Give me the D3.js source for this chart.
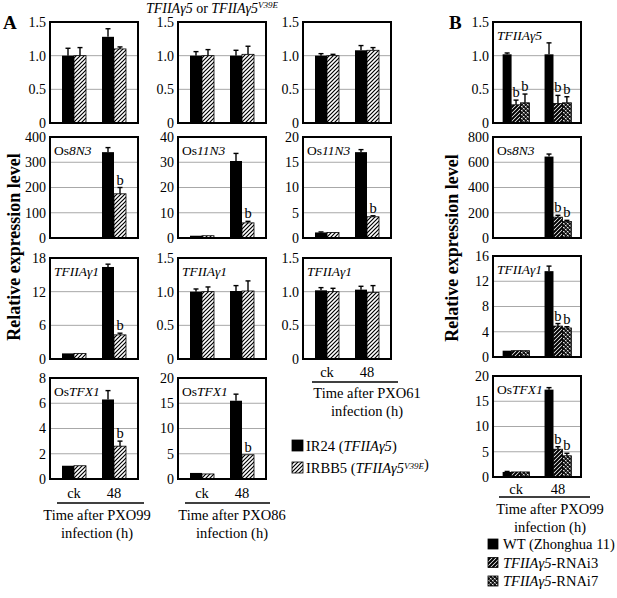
<!DOCTYPE html>
<html><head><meta charset="utf-8">
<script src="https://cdn.jsdelivr.net/npm/d3@7"></script>
<style>
body{margin:0;background:#fff}
svg{display:block;font-family:"Liberation Serif","Times New Roman",serif}
</style>
</head><body>
<svg id="c" width="617" height="598"></svg>
<script>
// ---------------- DATA ----------------
const timePoints = ["ck", "48"];
const seriesA = ["IR24", "IRBB5"];
const seriesB = ["WT", "RNAi3", "RNAi7"];

// Panel A: order [ck-IR24, ck-IRBB5, 48-IR24, 48-IRBB5]
const a99_g5_mean   = [1.00, 1.00, 1.28, 1.10];
const a99_g5_err    = [0.11, 0.12, 0.12, 0.03];
const a99_8n3_mean  = [1, 1, 340, 175];
const a99_8n3_err   = [0, 0, 18, 25];
const a99_g1_mean   = [1.0, 1.0, 16.4, 4.3];
const a99_g1_err    = [0, 0, 0.5, 0.3];
const a99_tfx1_mean = [1.05, 1.05, 6.3, 2.6];
const a99_tfx1_err  = [0, 0, 0.7, 0.4];

const a86_g5_mean   = [1.00, 1.00, 1.00, 1.02];
const a86_g5_err    = [0.06, 0.09, 0.08, 0.12];
const a86_11n3_mean = [0.9, 0.9, 30.5, 6.0];
const a86_11n3_err  = [0, 0, 3.0, 0.6];
const a86_g1_mean   = [1.00, 1.00, 1.01, 1.01];
const a86_g1_err    = [0.04, 0.07, 0.08, 0.15];
const a86_tfx1_mean = [1.2, 1.0, 15.5, 4.8];
const a86_tfx1_err  = [0, 0, 1.3, 0];

const a61_g5_mean   = [1.00, 1.00, 1.08, 1.08];
const a61_g5_err    = [0.03, 0.02, 0.07, 0.04];
const a61_11n3_mean = [1.1, 1.1, 17.0, 4.2];
const a61_11n3_err  = [0.1, 0, 0.5, 0.2];
const a61_g1_mean   = [1.02, 1.00, 1.03, 0.99];
const a61_g1_err    = [0.04, 0.05, 0.05, 0.10];

// Panel B: order [ck-WT, ck-RNAi3, ck-RNAi7, 48-WT, 48-RNAi3, 48-RNAi7]
const b_g5_mean   = [1.02, 0.27, 0.30, 1.02, 0.29, 0.30];
const b_g5_err    = [0.02, 0.07, 0.13, 0.17, 0.12, 0.09];
const b_8n3_mean  = [1, 1, 1, 645, 165, 130];
const b_8n3_err   = [0, 0, 0, 20, 15, 10];
const b_g1_mean   = [1.0, 1.0, 1.0, 13.6, 4.9, 4.6];
const b_g1_err    = [0, 0, 0, 0.8, 0.4, 0.2];
const b_tfx1_mean = [1.0, 1.0, 1.0, 17.3, 5.5, 4.2];
const b_tfx1_err  = [0.1, 0, 0, 0.4, 0.5, 0.5];

// significance markers
const sigNoneA = [0, 0, 0, 0];
const sigA     = [0, 0, 0, 1];
const sigB1    = [0, 1, 1, 0, 1, 1];
const sigB     = [0, 0, 0, 0, 1, 1];

// axis ticks
const ticks15  = [0, 0.5, 1.0, 1.5];
const ticks400 = [0, 100, 200, 300, 400];
const ticks40  = [0, 10, 20, 30, 40];
const ticks20  = [0, 5, 10, 15, 20];
const ticks18  = [0, 6, 12, 18];
const ticks8   = [0, 2, 4, 6, 8];
const ticks800 = [0, 200, 400, 600, 800];
const ticks16  = [0, 4, 8, 12, 16];

// gene labels [text, italic]
const lblOs8N3  = [["Os", 0], ["8N3", 1]];
const lblOs11N3 = [["Os", 0], ["11N3", 1]];
const lblG1     = [["TFIIAγ1", 1]];
const lblG5     = [["TFIIAγ5", 1]];
const lblTFX1   = [["Os", 0], ["TFX1", 1]];

// ---------------- DRAWING ----------------
const svg = d3.select("#c");
const FS = 14.5;
const TFS = 14;
const defs = svg.append("defs");

// hatched pattern (A)
const hA = defs.append("pattern").attr("id", "hatchA").attr("patternUnits", "userSpaceOnUse")
  .attr("width", 4).attr("height", 4);
hA.append("rect").attr("width", 4).attr("height", 4).attr("fill", "#fff");
hA.append("path").attr("d", "M-1,1 l2,-2 M0,4 l4,-4 M3,5 l2,-2").attr("stroke", "#000").attr("stroke-width", 1.2);
// hatched pattern (B, denser)
const hB = defs.append("pattern").attr("id", "hatchB").attr("patternUnits", "userSpaceOnUse")
  .attr("width", 4).attr("height", 4);
hB.append("rect").attr("width", 4).attr("height", 4).attr("fill", "#fff");
hB.append("path").attr("d", "M-1,1 l2,-2 M0,4 l4,-4 M3,5 l2,-2").attr("stroke", "#000").attr("stroke-width", 2);
// checkered pattern
const ck = defs.append("pattern").attr("id", "check").attr("patternUnits", "userSpaceOnUse")
  .attr("width", 4).attr("height", 4);
ck.append("rect").attr("width", 4).attr("height", 4).attr("fill", "#111");
ck.append("path").attr("d", "M0,0 L1.5,1.5 M1.5,0 L0,1.5 M2,2 L3.5,3.5 M3.5,2 L2,3.5").attr("stroke", "#fff").attr("stroke-width", 0.8);

const fillsA = ["#000", "url(#hatchA)"];
const fillsB = ["#000", "url(#hatchB)", "url(#check)"];

function addRich(sel, parts) {
  parts.forEach(p => {
    const t = sel.append("tspan").text(p[0]);
    if (p[1]) t.attr("font-style", "italic");
    if (p[2]) t.attr("font-size", 9).attr("dy", -4.5);
  });
  return sel;
}

function fmtTick(d, max) {
  if (d === 0) return "0";
  return max < 5 ? d3.format(".1f")(d) : d3.format("d")(d);
}

function drawPanel(o) {
  const g = svg.append("g").attr("transform", `translate(${o.x},${o.y})`);
  const series = o.series;
  const x0 = d3.scaleBand().domain(timePoints).range([0, o.w]).paddingInner(o.pi).paddingOuter(o.po);
  const x1 = d3.scaleBand().domain(series).range([0, x0.bandwidth()]);
  const y = d3.scaleLinear().domain([0, o.ticks[o.ticks.length - 1]]).range([o.h, 0]);
  const max = y.domain()[1];

  // gridlines
  g.selectAll(".grid").data(o.ticks.filter(t => t > 0 && t < max)).join("line")
    .attr("x1", 0).attr("x2", o.w).attr("y1", d => y(d)).attr("y2", d => y(d))
    .attr("stroke", "#a8a8a8").attr("stroke-width", 1);

  const rows = [];
  timePoints.forEach((tp, i) => series.forEach((s, j) => {
    const k = i * series.length + j;
    rows.push({tp, s, j, v: o.mean[k], e: o.err[k], sig: o.sig[k]});
  }));

  g.selectAll(".bar").data(rows).join("rect")
    .attr("x", d => x0(d.tp) + x1(d.s))
    .attr("y", d => y(d.v))
    .attr("width", x1.bandwidth())
    .attr("height", d => o.h - y(d.v))
    .attr("fill", d => o.fills[d.j])
    .attr("stroke", "#000").attr("stroke-width", d => d.j === 0 ? 0 : 0.8);

  const eb = rows.filter(d => d.e > 0);
  g.selectAll(".ev").data(eb).join("line")
    .attr("x1", d => x0(d.tp) + x1(d.s) + x1.bandwidth() / 2)
    .attr("x2", d => x0(d.tp) + x1(d.s) + x1.bandwidth() / 2)
    .attr("y1", d => y(d.v)).attr("y2", d => y(d.v + d.e))
    .attr("stroke", "#000").attr("stroke-width", 1.4);
  g.selectAll(".ec").data(eb).join("line")
    .attr("x1", d => x0(d.tp) + x1(d.s) + x1.bandwidth() / 2 - 2.5)
    .attr("x2", d => x0(d.tp) + x1(d.s) + x1.bandwidth() / 2 + 2.5)
    .attr("y1", d => y(d.v + d.e)).attr("y2", d => y(d.v + d.e))
    .attr("stroke", "#000").attr("stroke-width", 1.4);

  g.selectAll(".sig").data(rows.filter(d => d.sig)).join("text")
    .attr("x", d => x0(d.tp) + x1(d.s) + x1.bandwidth() / 2)
    .attr("y", d => y(d.v + d.e) - 3)
    .attr("text-anchor", "middle").attr("font-size", FS).text("b");

  // frame
  g.append("rect").attr("width", o.w).attr("height", o.h)
    .attr("fill", "none").attr("stroke", "#000").attr("stroke-width", 2);

  // y tick labels
  g.selectAll(".yt").data(o.ticks).join("text")
    .attr("x", -4).attr("y", d => y(d)).attr("dy", "0.35em")
    .attr("text-anchor", "end").attr("font-size", TFS)
    .text(d => fmtTick(d, max));

  if (o.label) {
    addRich(g.append("text").attr("x", 4).attr("y", 18).attr("font-size", 13.5), o.label);
  }
  return x0;
}

function xAxis(o, x0, base, lineY, lx1, lx2, cx, ly1) {
  const g = svg.append("g").attr("transform", `translate(${o.x},0)`);
  g.selectAll(".xl").data(timePoints).join("text")
    .attr("x", d => x0(d) + x0.bandwidth() / 2).attr("y", base)
    .attr("text-anchor", "middle").attr("font-size", FS).text(d => d);
  svg.append("line").attr("x1", lx1).attr("x2", lx2).attr("y1", lineY).attr("y2", lineY)
    .attr("stroke", "#000").attr("stroke-width", 1.5);
  svg.append("text").attr("x", cx).attr("y", ly1).attr("text-anchor", "middle").attr("font-size", FS).text(o.xTitle);
  svg.append("text").attr("x", cx).attr("y", ly1 + 18).attr("text-anchor", "middle").attr("font-size", FS).text("infection (h)");
}

const colX = [50, 178, 303];
const rowY = [22, 137, 258, 378];
const W = 88, H = 101;
const baseA = {w: W, h: H, pi: 0.4, po: 0.3, series: seriesA, fills: fillsA};

// column 1: PXO99
drawPanel({...baseA, x: colX[0], y: rowY[0], ticks: ticks15, mean: a99_g5_mean, err: a99_g5_err, sig: sigNoneA});
drawPanel({...baseA, x: colX[0], y: rowY[1], ticks: ticks400, mean: a99_8n3_mean, err: a99_8n3_err, sig: sigA, label: lblOs8N3});
drawPanel({...baseA, x: colX[0], y: rowY[2], ticks: ticks18, mean: a99_g1_mean, err: a99_g1_err, sig: sigA, label: lblG1});
const c1 = {...baseA, x: colX[0], y: rowY[3], ticks: ticks8, mean: a99_tfx1_mean, err: a99_tfx1_err, sig: sigA, label: lblTFX1, xTitle: "Time after PXO99"};
const x01 = drawPanel(c1);
xAxis(c1, x01, 498, 503, 57, 144, 97, 520);

// column 2: PXO86
drawPanel({...baseA, x: colX[1], y: rowY[0], ticks: ticks15, mean: a86_g5_mean, err: a86_g5_err, sig: sigNoneA});
drawPanel({...baseA, x: colX[1], y: rowY[1], ticks: ticks40, mean: a86_11n3_mean, err: a86_11n3_err, sig: sigA, label: lblOs11N3});
drawPanel({...baseA, x: colX[1], y: rowY[2], ticks: ticks15, mean: a86_g1_mean, err: a86_g1_err, sig: sigNoneA, label: lblG1});
const c2 = {...baseA, x: colX[1], y: rowY[3], ticks: ticks20, mean: a86_tfx1_mean, err: a86_tfx1_err, sig: sigA, label: lblTFX1, xTitle: "Time after PXO86"};
const x02 = drawPanel(c2);
xAxis(c2, x02, 498, 503, 185, 270, 232, 520);

// column 3: PXO61
drawPanel({...baseA, x: colX[2], y: rowY[0], ticks: ticks15, mean: a61_g5_mean, err: a61_g5_err, sig: sigNoneA});
drawPanel({...baseA, x: colX[2], y: rowY[1], ticks: ticks20, mean: a61_11n3_mean, err: a61_11n3_err, sig: sigA, label: lblOs11N3});
const c3 = {...baseA, x: colX[2], y: rowY[2], ticks: ticks15, mean: a61_g1_mean, err: a61_g1_err, sig: sigNoneA, label: lblG1, xTitle: "Time after PXO61"};
const x03 = drawPanel(c3);
xAxis(c3, x03, 377, 382, 312, 398, 367, 398);

// panel B
const bX = 493;
const rowYB = [22, 137, 256, 376];
const baseB = {w: W, h: H, pi: 0.36, po: 0.23, series: seriesB, fills: fillsB, x: bX};
drawPanel({...baseB, y: rowYB[0], ticks: ticks15, mean: b_g5_mean, err: b_g5_err, sig: sigB1, label: lblG5});
drawPanel({...baseB, y: rowYB[1], ticks: ticks800, mean: b_8n3_mean, err: b_8n3_err, sig: sigB, label: lblOs8N3});
drawPanel({...baseB, y: rowYB[2], ticks: ticks16, mean: b_g1_mean, err: b_g1_err, sig: sigB, label: lblG1});
const cB = {...baseB, y: rowYB[3], ticks: ticks20, mean: b_tfx1_mean, err: b_tfx1_err, sig: sigB, label: lblTFX1, xTitle: "Time after PXO99"};
const x0B = drawPanel(cB);
xAxis(cB, x0B, 494, 497, 499, 590, 550, 514);

// panel letters, title, axis titles
svg.append("text").attr("x", 3).attr("y", 29).attr("font-size", 19).attr("font-weight", "bold").text("A");
svg.append("text").attr("x", 449).attr("y", 29).attr("font-size", 19).attr("font-weight", "bold").text("B");
addRich(svg.append("text").attr("x", 212).attr("y", 12.5).attr("text-anchor", "middle").attr("font-size", 14),
  [["TFIIAγ5", 1], [" or ", 0], ["TFIIAγ5", 1], ["V39E", 1, 1]]);
svg.append("text").attr("transform", "translate(20,247) rotate(-90)").attr("text-anchor", "middle")
  .attr("font-size", 18).attr("font-weight", "bold").text("Relative expression level");
svg.append("text").attr("transform", "translate(458,248) rotate(-90)").attr("text-anchor", "middle")
  .attr("font-size", 18).attr("font-weight", "bold").text("Relative expression level");

// legend A
const legA = [
  {fill: fillsA[0], parts: [["IR24 (", 0], ["TFIIAγ5", 1], [")", 0]]},
  {fill: fillsA[1], parts: [["IRBB5 (", 0], ["TFIIAγ5", 1], ["V39E", 1, 1], [")", 0]]}
];
legA.forEach((d, i) => {
  svg.append("rect").attr("x", 292).attr("y", 440 + i * 22).attr("width", 11).attr("height", 11)
    .attr("fill", d.fill).attr("stroke", "#000").attr("stroke-width", 0.8);
  const t = svg.append("text").attr("x", 306).attr("y", 451 + i * 22).attr("font-size", FS);
  addRich(t, d.parts);
});
// legend B
const legB = [
  {fill: fillsB[0], parts: [["WT (Zhonghua 11)", 0]]},
  {fill: fillsB[1], parts: [["TFIIAγ5", 1], ["-RNAi3", 0]]},
  {fill: fillsB[2], parts: [["TFIIAγ5", 1], ["-RNAi7", 0]]}
];
legB.forEach((d, i) => {
  svg.append("rect").attr("x", 488).attr("y", 539 + i * 18.5).attr("width", 10).attr("height", 10)
    .attr("fill", d.fill).attr("stroke", "#000").attr("stroke-width", 0.8);
  const t = svg.append("text").attr("x", 503).attr("y", 549 + i * 18.5).attr("font-size", FS);
  addRich(t, d.parts);
});
</script>
</body></html>
